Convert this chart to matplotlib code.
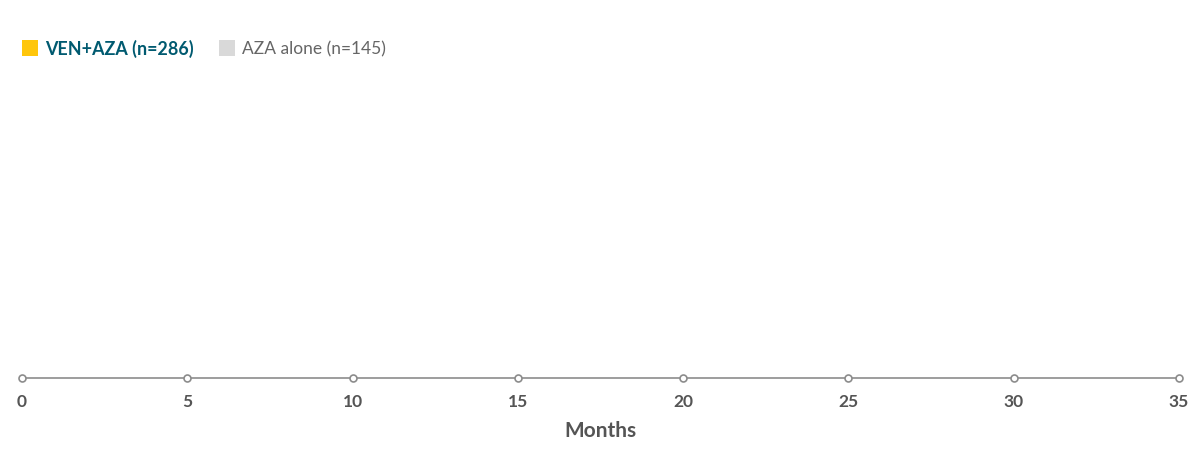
import matplotlib
matplotlib.use("Agg")
import matplotlib.pyplot as plt
from matplotlib.patches import Rectangle

# Data
series_names = ["VEN+AZA (n=286)", "AZA alone (n=145)"]
series_colors = ["#ffc60b", "#d9d9d9"]
legend_text_colors = ["#005a70", "#666666"]
legend_weights = ["bold", "normal"]
months_ticks = [0, 5, 10, 15, 20, 25, 30, 35]
ven_aza_values = []
aza_alone_values = []

plt.rcParams['font.family'] = ['Lato', 'DejaVu Sans']

fig = plt.figure(figsize=(12, 4.64), dpi=100)
ax = fig.add_axes([22/1200, 85.5/464, (1179-22)/1200, 300/464])
ax.set_xlim(months_ticks[0], months_ticks[-1])
ax.set_ylim(0, 1)
for s in ["top", "right", "left"]:
    ax.spines[s].set_visible(False)
ax.spines["bottom"].set_color("#8c8c8c")
ax.spines["bottom"].set_linewidth(1.2)
ax.set_yticks([])
ax.set_xticks(months_ticks)
ax.set_xticklabels([str(t) for t in months_ticks], fontsize=12.5, color="#555555", fontweight="bold")
ax.tick_params(axis="x", length=0, pad=11)
ax.plot(months_ticks, [0]*len(months_ticks), linestyle="none", marker="o", markersize=5,
        markerfacecolor="white", markeredgecolor="#8c8c8c", markeredgewidth=1.2, clip_on=False, zorder=5)
ax.plot(range(len(ven_aza_values)), ven_aza_values, color=series_colors[0])
ax.plot(range(len(aza_alone_values)), aza_alone_values, color=series_colors[1])
ax.set_xlabel("Months", fontsize=15, color="#555555", fontweight="bold", labelpad=8)

# Legend
legend_x = [22, 219]
legend_sizes = [12.9, 12.5]
for i, name in enumerate(series_names):
    x0 = legend_x[i]
    fig.patches.append(Rectangle((x0/1200, (464-57)/464), 16/1200, 16/464,
                                 transform=fig.transFigure, facecolor=series_colors[i],
                                 edgecolor="none"))
    fig.text((x0+23)/1200, (464-49)/464, name, fontsize=legend_sizes[i], color=legend_text_colors[i],
             fontweight=legend_weights[i], va="center", ha="left")

fig.savefig("out.png", dpi=100)
